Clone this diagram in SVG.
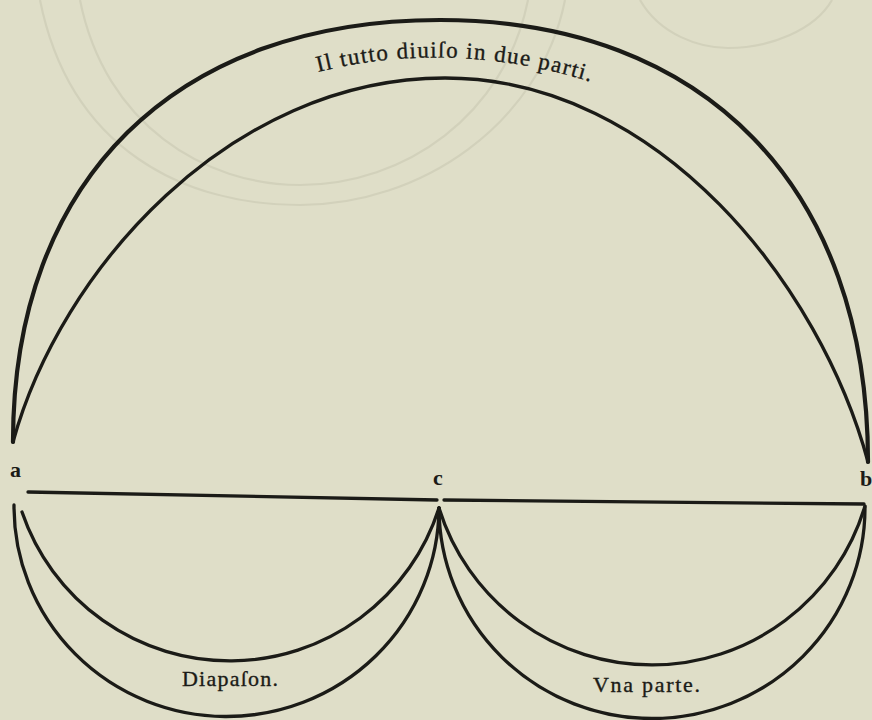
<svg xmlns="http://www.w3.org/2000/svg" width="872" height="720" viewBox="0 0 872 720">
  <style>
    .ink { fill: none; stroke: #1b1b17; stroke-linecap: round; stroke-linejoin: round; }
    .heavy { stroke-width: 4.2; }
    .mid { stroke-width: 3.3; }
    .ghost { fill: none; stroke: #d2d1bb; stroke-width: 2.2; }
    .lbl { font-family: "Liberation Serif", "DejaVu Serif", serif; fill: #1b1b17; stroke: #1b1b17; stroke-width: 0.35; }
    .pt { font-family: "Liberation Serif", "DejaVu Serif", serif; font-weight: bold; fill: #1b1b17; font-size: 22px; }
  </style>
  <defs>
    <path id="titlePath" d="M 318,72 Q 455,38 598,84"/>
  </defs>
  <rect x="0" y="0" width="872" height="720" fill="#dfdec8"/>

  <!-- faint show-through from the reverse of the page -->
  <g id="showthrough">
    <path class="ghost" d="M 40,0 C 70,150 185,205 300,205 C 420,205 540,125 565,0"/>
    <path class="ghost" d="M 80,0 C 105,125 205,185 300,185 C 405,185 505,115 528,0"/>
    <path class="ghost" d="M 640,0 C 660,35 700,48 728,48 C 770,48 815,30 832,0"/>
  </g>

  <!-- upper lune: the whole -->
  <g id="whole">
    <path class="ink heavy" d="M 13,442 C 13,180 175,20 440,20 C 705,20 868,188 868,462"/>
    <path class="ink mid" d="M 13,442 C 60,270 230,78 445,78 C 660,78 821,287 868,462"/>
    <text class="lbl" font-size="23"><textPath href="#titlePath" textLength="276" lengthAdjust="spacing">Il tutto diuiſo in due parti.</textPath></text>
  </g>

  <!-- connectors: the dividing line a–c–b -->
  <g id="connectors">
    <path class="ink mid" d="M 28,492 L 437,500"/>
    <path class="ink mid" d="M 444,500 L 864,504"/>
  </g>

  <!-- lower left lune: Diapason -->
  <g id="diapason">
    <path class="ink mid" d="M 14,505 A 212.5 210 0 0 0 439,508"/>
    <path class="ink mid" d="M 22,512 A 219.5 219.5 0 0 0 439,508"/>
    <text class="lbl" x="182" y="686" font-size="22" textLength="96" lengthAdjust="spacing">Diapaſon.</text>
  </g>

  <!-- lower right lune: one part -->
  <g id="vnaparte">
    <path class="ink mid" d="M 439,508 A 213 211 0 0 0 865,507"/>
    <path class="ink mid" d="M 439,508 A 222.6 222.6 0 0 0 865,506"/>
    <text class="lbl" x="593" y="692" font-size="22" textLength="107" lengthAdjust="spacing">Vna parte.</text>
  </g>

  <!-- point letters -->
  <g id="point-a"><text class="pt" x="10" y="477">a</text></g>
  <g id="point-c"><text class="pt" x="433" y="485">c</text></g>
  <g id="point-b"><text class="pt" x="860" y="486">b</text></g>
</svg>
